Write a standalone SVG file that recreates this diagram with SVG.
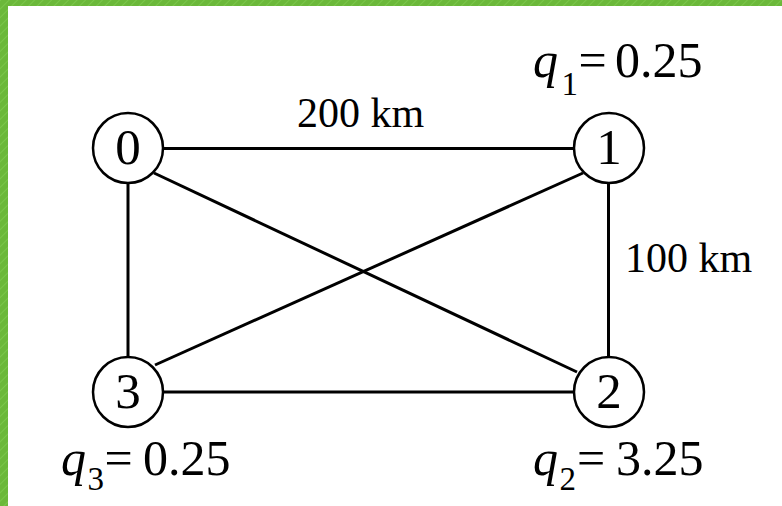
<svg xmlns="http://www.w3.org/2000/svg" width="782" height="506" viewBox="0 0 782 506">
<defs>
<pattern id="hatch" width="6" height="6" patternUnits="userSpaceOnUse" patternTransform="rotate(45)">
<rect width="6" height="6" fill="#6bb83a"/>
<line x1="0" y1="0" x2="0" y2="6" stroke="#7ac64a" stroke-width="2"/>
</pattern>
</defs>
<style>
.edge{stroke:#000;stroke-width:3;fill:none}
.node circle{fill:#fff;stroke:#000;stroke-width:2.5}
.node text{font-family:"Liberation Serif","Times New Roman",serif;font-size:51px;text-anchor:middle;fill:#000}
.lbl{font-family:"Liberation Serif","Times New Roman",serif;fill:#000}
.km{font-size:42px}
.q{font-size:50px;font-style:italic}
.sub{font-size:33px}
.val{font-size:50px}
</style>
<rect width="782" height="506" fill="#fff"/>
<rect x="0" y="0" width="782" height="6" fill="url(#hatch)"/>
<rect x="0" y="0" width="8" height="506" fill="url(#hatch)"/>
<g id="connectors">
<line class="edge" x1="162" y1="148.5" x2="575" y2="148.5"/>
<line class="edge" x1="162" y1="392" x2="575" y2="392"/>
<line class="edge" x1="128" y1="182" x2="128" y2="358"/>
<line class="edge" x1="608.5" y1="182" x2="608.5" y2="358"/>
<line class="edge" x1="154" y1="173" x2="577" y2="372"/>
<line class="edge" x1="583" y1="173" x2="155" y2="365"/>
</g>
<g id="node0" class="node"><circle cx="128" cy="148" r="35"/><text x="128" y="164">0</text></g>
<g id="node1" class="node"><circle cx="609" cy="148" r="35"/><text x="609" y="164">1</text></g>
<g id="node2" class="node"><circle cx="609" cy="392" r="35"/><text x="609" y="408">2</text></g>
<g id="node3" class="node"><circle cx="128" cy="392" r="35"/><text x="128" y="408">3</text></g>
<g id="labels">
<text class="lbl km" x="297" y="127">200 km</text>
<text class="lbl km" x="625" y="272">100 km</text>
<g id="q1"><text class="lbl q" x="533" y="77">q</text><text class="lbl sub" x="561.5" y="95">1</text><text class="lbl val" x="578.5" y="77">=</text><text class="lbl val" x="615" y="77">0.25</text></g>
<g id="q3"><text class="lbl q" x="61" y="475">q</text><text class="lbl sub" x="87.5" y="490">3</text><text class="lbl val" x="104.5" y="475">=</text><text class="lbl val" x="143" y="475">0.25</text></g>
<g id="q2"><text class="lbl q" x="533" y="475">q</text><text class="lbl sub" x="559.5" y="490">2</text><text class="lbl val" x="577" y="475">=</text><text class="lbl val" x="616" y="475">3.25</text></g>
</g>
</svg>
